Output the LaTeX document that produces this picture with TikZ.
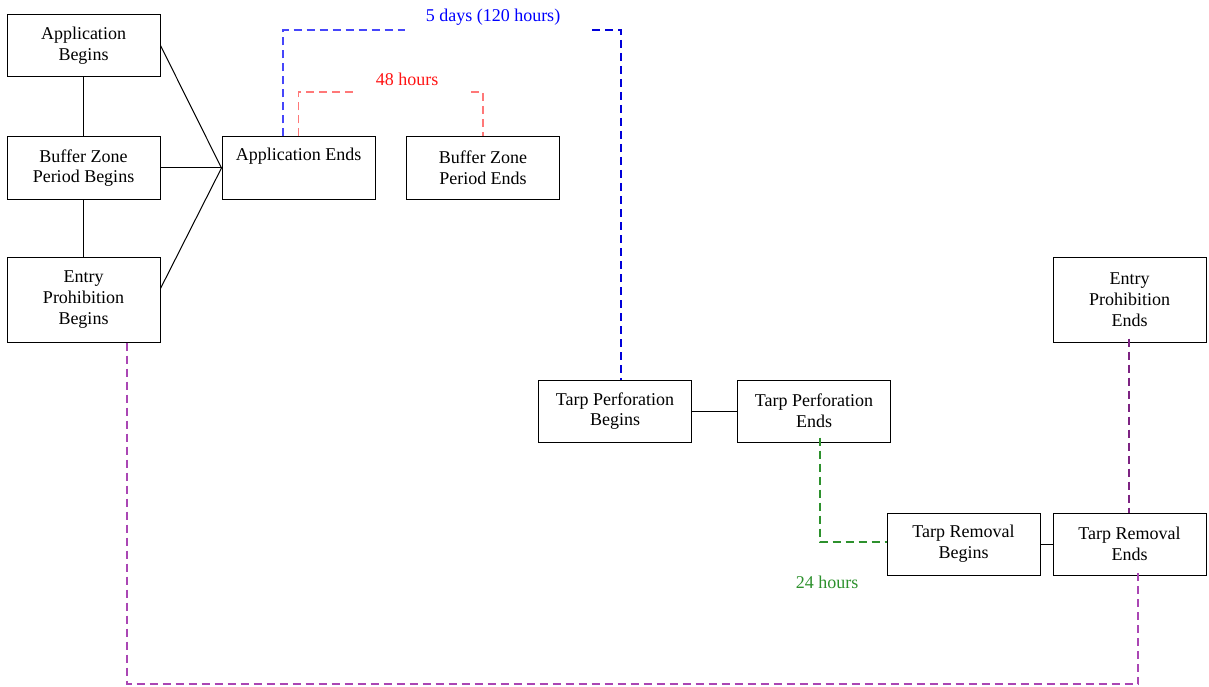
\documentclass[tikz,border=0pt]{standalone}
\usepackage{fontspec}
\setmainfont{Liberation Serif}
\usetikzlibrary{calc}
\definecolor{daysblue}{RGB}{70,70,250}
\definecolor{hourred}{RGB}{255,20,20}
\definecolor{hourpink}{RGB}{255,120,120}
\definecolor{hourgreen}{RGB}{45,145,45}
\definecolor{entrypurple}{RGB}{125,35,130}
\definecolor{entrylilac}{RGB}{170,70,180}
\tikzset{
	stagebox/.style={draw, line width=1pt, align=center, inner sep=0pt, minimum width=153pt, minimum height=62pt, font=\fontsize{18}{20.7}\selectfont},
	tallbox/.style={stagebox, minimum height=85pt},
	tag/.style={inner sep=0pt, font=\fontsize{18}{20.7}\selectfont},
	link/.style={line width=1pt},
	timeline/.style={line width=1.4pt, dash pattern=on 8pt off 5pt}
}

\begin{document}
\begin{tikzpicture}[x=1pt, y=-1pt]
			%%%%% START %%%%%
			\useasboundingbox (0, 0) rectangle (1209, 687);
			
			\node[stagebox] (appbegin) at (83.5, 45.5) {Application\\Begins};
			\node[stagebox] (bufbegin) at (83.5, 168) {Buffer Zone\\Period Begins};
			\node[tallbox] (entbegin) at (83.5, 299.5) {Entry\\Prohibition\\Begins};
			
			\node[stagebox] (append) at (298.5, 168) {Application Ends\\\strut};
			\node[stagebox] (bufend) at (483, 168) {Buffer Zone\\Period Ends};
			
			\node[stagebox] (perfbegin) at (615, 411) {Tarp Perforation\\Begins};
			\node[stagebox] (perfend) at (814, 411) {Tarp Perforation\\Ends};
			
			\node[stagebox] (rembegin) at (963.5, 544) {Tarp Removal\\Begins};
			\node[stagebox] (remend) at (1129.5, 544) {Tarp Removal\\Ends};
			
			\node[tallbox] (entend) at (1129.5, 299.5) {Entry\\Prohibition\\Ends};
			
			% solid links
			\draw[link] (appbegin) -- (bufbegin);
			\draw[link] (bufbegin) -- (entbegin);
			\draw[link] (appbegin.east) -- (append.west);
			\draw[link] (bufbegin.east) -- (append.west);
			\draw[link] ($(entbegin.east)+(0, -11)$) -- (append.west);
			\draw[link] (perfbegin) -- (perfend);
			\draw[link] (rembegin) -- (remend);
			
			% 5 days
			\node[tag, text=blue] (days) at (493, 17) {5 days (120 hours)};
			\coordinate (daysleft) at (405, 30);
			\coordinate (daysright) at (592, 30);
			\draw[timeline, daysblue] ([xshift=-15.5pt]append.north) |- (daysleft);
			\draw[timeline, blue!85!black] (daysright) -| ([xshift=6pt]perfbegin.north);
			
			% 48 hours
			\node[tag, text=hourred] (twodays) at (407, 79) {48 hours};
			\coordinate (twoleft) at (357, 92);
			\coordinate (tworight) at (471, 92);
			\draw[timeline, hourpink] (append.north) |- (twoleft);
			\draw[timeline, hourpink] (tworight) -| (bufend.north);
			
			% 24 hours
			\node[tag, text=hourgreen] (oneday) at (827, 582) {24 hours};
			\draw[timeline, hourgreen] ([xshift=6pt, yshift=5pt]perfend.south) |- ([yshift=2pt]rembegin.west);
			
			% entry prohibition
			\draw[timeline, entrypurple] ([xshift=-0.5pt, yshift=4pt]entend.south) -- ([xshift=-0.5pt]remend.north);
			\coordinate (entfoot) at ([xshift=43.5pt]entbegin.south);
			\coordinate (remfoot) at ([xshift=8.5pt, yshift=5pt]remend.south);
			\coordinate (floor) at (0, 684);
			\draw[timeline, entrylilac] (entfoot) |- (remfoot |- floor) -- (remfoot);
			
			%%%%% END %%%%%
\end{tikzpicture}
\end{document}
